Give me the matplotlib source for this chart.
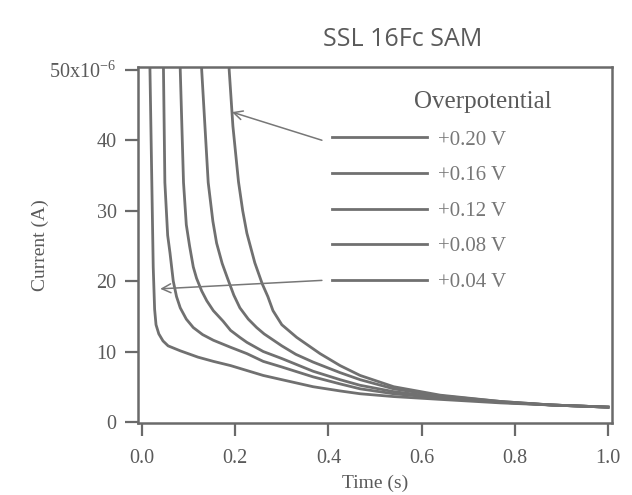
import numpy as np
import matplotlib.pyplot as plt

plt.rcParams['font.family'] = 'Liberation Serif'
plt.rcParams['mathtext.fontset'] = 'stix'

# current transients (time in s, current in uA)
t_004 = [0.0165, 0.017, 0.021, 0.024, 0.027, 0.030, 0.036, 0.045, 0.056, 0.082, 0.12, 0.153,
         0.19, 0.225, 0.26, 0.30, 0.367, 0.425, 0.468, 0.54, 0.64, 0.77, 0.88, 1.0]
i_004 = [60, 50, 34, 22, 16, 13.8, 12.5, 11.5, 10.8, 10.1, 9.2, 8.6,
         8.0, 7.3, 6.6, 6.0, 5.0, 4.4, 4.0, 3.6, 3.2, 2.7, 2.4, 2.1]

t_008 = [0.044, 0.046, 0.049, 0.055, 0.060, 0.067, 0.074, 0.082, 0.095, 0.11, 0.13, 0.153,
         0.19, 0.225, 0.26, 0.30, 0.367, 0.425, 0.468, 0.54, 0.64, 0.77, 0.88, 1.0]
i_008 = [60, 50, 34, 26.5, 24, 20, 17.8, 16.2, 14.6, 13.4, 12.4, 11.6,
         10.6, 9.7, 8.6, 7.8, 6.4, 5.4, 4.7, 4.0, 3.4, 2.8, 2.4, 2.1]

t_012 = [0.080, 0.082, 0.089, 0.095, 0.102, 0.110, 0.117, 0.128, 0.139, 0.153, 0.174, 0.19,
         0.21, 0.225, 0.26, 0.30, 0.367, 0.425, 0.468, 0.54, 0.64, 0.77, 0.88, 1.0]
i_012 = [60, 50, 34, 28, 25, 22, 20.4, 18.6, 17.2, 15.8, 14.3, 13.0,
         12.0, 11.3, 10.0, 9.0, 7.2, 6.0, 5.2, 4.3, 3.5, 2.8, 2.4, 2.1]

t_016 = [0.126, 0.128, 0.142, 0.152, 0.160, 0.172, 0.184, 0.197, 0.21, 0.228, 0.246, 0.262,
         0.30, 0.33, 0.367, 0.425, 0.468, 0.54, 0.64, 0.77, 0.88, 1.0]
i_016 = [60, 50, 34, 28.5, 25.4, 22.5, 20.3, 18.0, 16.2, 14.6, 13.4, 12.5,
         10.8, 9.6, 8.5, 7.0, 6.0, 4.7, 3.7, 2.9, 2.4, 2.1]

t_020 = [0.185, 0.187, 0.195, 0.207, 0.216, 0.225, 0.242, 0.258, 0.27, 0.281, 0.30, 0.332,
         0.382, 0.425, 0.468, 0.54, 0.64, 0.77, 0.88, 1.0]
i_020 = [60, 50, 42, 34.1, 30, 26.8, 22.6, 19.6, 17.8, 15.8, 13.8, 12.0,
         9.7, 8.0, 6.6, 5.0, 3.8, 2.9, 2.4, 2.1]

labels = ['+0.20 V', '+0.16 V', '+0.12 V', '+0.08 V', '+0.04 V']
x_ticks = [0.0, 0.2, 0.4, 0.6, 0.8, 1.0]
y_ticks = [0, 10, 20, 30, 40, 50]
y_ticklabels = ['0', '10', '20', '30', '40', '50x10$^{\\mathregular{-6}}$']

curve_col = '#707070'
text_col = '#5a5a5a'

fig = plt.figure(figsize=(6.32, 4.95), dpi=100)
ax = fig.add_axes([0.2184, 0.1455, 0.7500, 0.7191])

series = [(t_020, i_020), (t_016, i_016), (t_012, i_012), (t_008, i_008), (t_004, i_004)]
for (t, cur), lab in zip(series, labels):
    ax.plot(t, cur, color=curve_col, lw=2.0, label=lab)

ax.set_xlim(-0.0086, 1.0086)
ax.set_ylim(-0.15, 50.4)
ax.set_xticks(x_ticks)
ax.set_xticklabels([f'{v:.1f}' for v in x_ticks])
ax.set_yticks(y_ticks)
ax.set_yticklabels(y_ticklabels)
ax.tick_params(direction='out', length=9.5, width=1.6, color='#6a6a6a',
               labelsize=14.5, labelcolor=text_col)
ax.tick_params(axis='x', pad=9)
ax.tick_params(axis='y', pad=6)
for s in ax.spines.values():
    s.set_color('#6a6a6a')
    s.set_linewidth(1.8)

ax.set_xlabel('Time (s)', fontsize=14, color=text_col, labelpad=5)
ax.set_ylabel('Current (A)', fontsize=14, color=text_col)
ax.yaxis.set_label_coords(-0.188, 0.5)

fig.text(403 / 632, 1 - 40 / 495, 'SSL 16Fc SAM', ha='center', va='center',
         fontsize=18, color=text_col, family='Open Sans')

leg = ax.legend(loc='upper left', bbox_to_anchor=(0.409, 0.823), frameon=False,
                handlelength=4.57, handletextpad=0.5, labelspacing=0.77,
                fontsize=15, borderaxespad=0, borderpad=0)
for txt in leg.get_texts():
    txt.set_color('#777777')

ax.text(0.583, 45.4, 'Overpotential', ha='left', va='center', fontsize=18, color=text_col)

arrow = dict(arrowstyle='->', color='#777777', lw=1.1, mutation_scale=16, shrinkA=0, shrinkB=0)
ax.annotate('', xy=(0.193, 44), xytext=(0.386, 40), arrowprops=arrow)
ax.annotate('', xy=(0.039, 18.9), xytext=(0.386, 20.1), arrowprops=arrow)

fig.savefig('out.png', dpi=100)
